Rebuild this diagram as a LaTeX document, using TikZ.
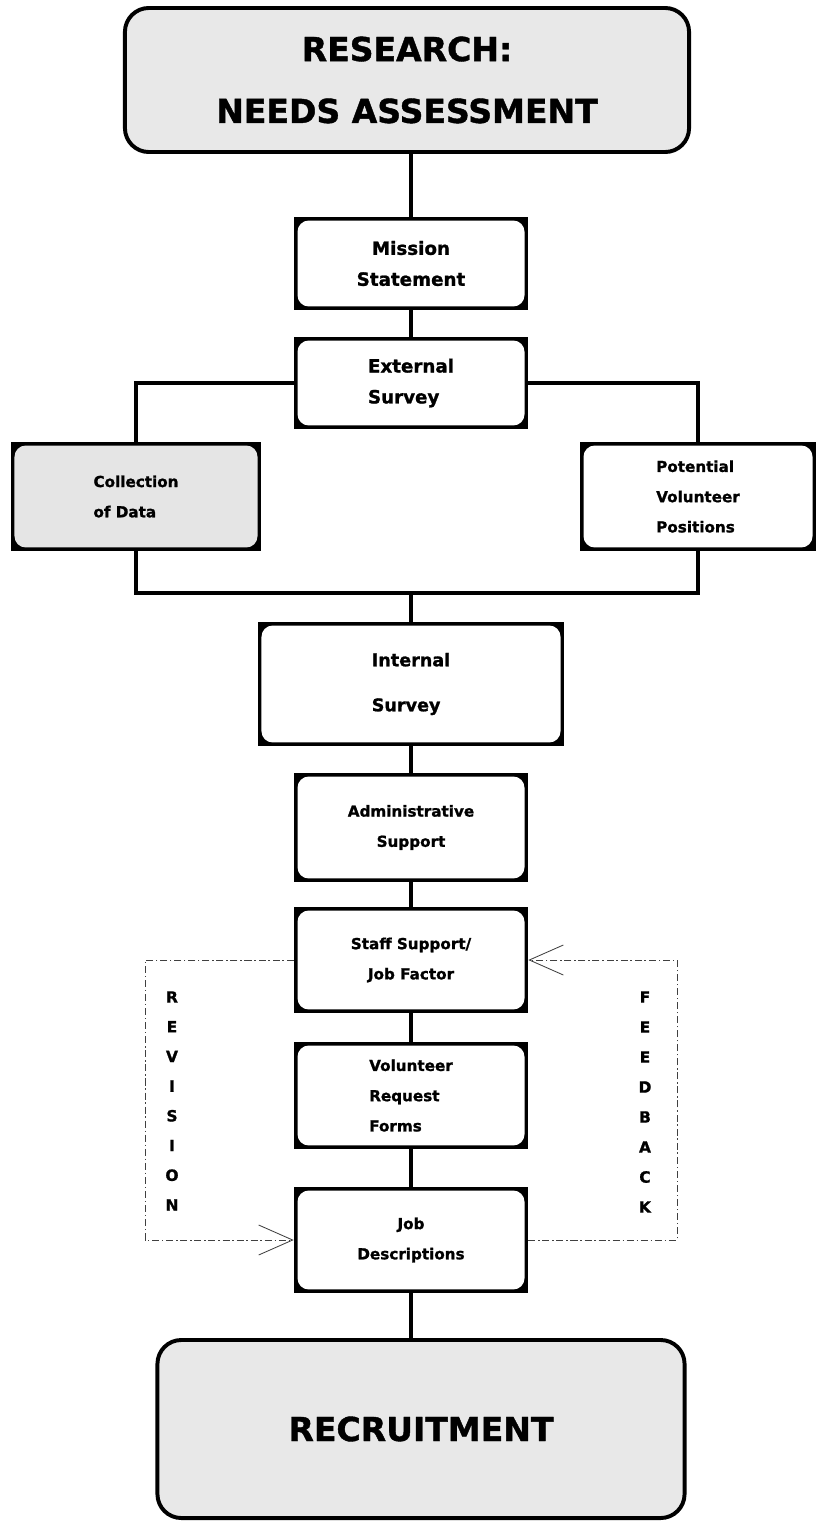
\documentclass[tikz,border=0pt]{standalone}
\usepackage{fontspec}
\setmainfont{DejaVu Sans}[BoldFeatures={FakeBold=1.2}]
\usetikzlibrary{arrows.meta, positioning, calc}

\begin{document}
\begin{tikzpicture}[
  x=0.025cm, y=-0.025cm,
  link/.style={line width=2.2pt},
  bigbox/.style={draw=black, line width=2.8pt, fill=black!9, rounded corners=17pt,
                 align=center, font=\fontsize{23.5}{44}\selectfont\bfseries},
  sqbox/.style={rectangle, draw=black, line width=1.8pt, fill=black, inner sep=0pt,
                minimum width=5.8cm, minimum height=2.65cm,
                font=\fontsize{10.8}{21.5}\selectfont\bfseries,
                path picture={\fill[#1, rounded corners=8pt]
                  ([shift={(1.8pt,1.8pt)}]path picture bounding box.south west) rectangle
                  ([shift={(-1.8pt,-1.8pt)}]path picture bounding box.north east);}},
  sqbox/.default=white,
  midtxt/.style={font=\fontsize{13}{22}\selectfont\bfseries},
  fbline/.style={black!75, line width=0.6pt,
                 dash pattern=on 5pt off 2pt on 1pt off 2pt},
  barb/.style={-{Straight Barb[length=0.85cm, width=0.75cm, line width=0.6pt]}},
  ltr/.style={font=\fontsize{11}{11}\selectfont\bfseries, inner sep=0pt}
]
\useasboundingbox (0,0) rectangle (822,1524);

% ================= top =================
\node[bigbox, minimum width=14.1cm, minimum height=3.6cm] (research) at (407,80)
  {RESEARCH:\\NEEDS ASSESSMENT};

\node[sqbox, midtxt, align=center, minimum height=2.275cm] (mission) at (411,263.5)
  {Mission\\Statement};
\node[sqbox, midtxt, align=left, minimum height=2.25cm] (external) at (411,383)
  {External\\Survey};

% ================= branch =================
\node[sqbox=black!10, align=left, minimum width=6.2cm, minimum height=2.675cm] (collect) at (136,496.5)
  {Collection\\of Data};
\node[sqbox, align=left, minimum width=5.85cm, minimum height=2.675cm] (potential) at (698,496.5)
  {Potential\\Volunteer\\Positions};
\coordinate (join) at (411,593);

% ================= middle stack =================
\node[sqbox, align=left, minimum width=7.6cm, minimum height=3.05cm,
      font=\fontsize{12.5}{32}\selectfont\bfseries] (internal) at (411,684)
  {Internal\\Survey};
\node[sqbox, align=center, minimum height=2.675cm] (admin) at (411,827.5)
  {Administrative\\Support};
\node[sqbox, align=center, minimum height=2.6cm] (staff) at (411,960)
  {Staff Support/\\Job Factor};
\node[sqbox, align=left, minimum height=2.625cm] (request) at (411,1095.5)
  {Volunteer\\Request\\Forms};
\node[sqbox, align=center, minimum height=2.6cm] (jobdesc) at (411,1240)
  {Job\\Descriptions};

% ================= bottom =================
\node[bigbox, minimum width=13.175cm, minimum height=4.45cm] (recruit) at (421,1429)
  {RECRUITMENT};

% ================= connectors =================
\draw[link] (mission.north |- research.south) -- (mission.north);
\draw[link] (mission.south) -- (external.north);
\draw[link] (external.west) -| (collect.north);
\draw[link] (external.east) -| (potential.north);
\draw[link] (collect.south) |- (join) -| (potential.south);
\draw[link] (join) -- (internal.north);
\draw[link] (internal.south) -- (admin.north);
\draw[link] (admin.south) -- (staff.north);
\draw[link] (staff.south) -- (request.north);
\draw[link] (request.south) -- (jobdesc.north);
\draw[link] (jobdesc.south) -- (jobdesc.south |- recruit.north);

% ================= revision / feedback loop =================
\coordinate (revbot) at (145,1240);
\coordinate (fbtop) at (677,960);
\draw[fbline, barb] (staff.west) -| (revbot) -- (jobdesc.west);
\draw[fbline, barb] (jobdesc.east) -| (fbtop) -- (staff.east);

\foreach \l [count=\i] in {R,E,V,I,S,I,O,N}
  {\node[ltr] (rev\i) at (172,{997+(\i-1)*29.7}) {\l};}
\foreach \l [count=\i] in {F,E,E,D,B,A,C,K}
  {\node[ltr] (fb\i) at (645,{997+(\i-1)*30}) {\l};}

\end{tikzpicture}
\end{document}
